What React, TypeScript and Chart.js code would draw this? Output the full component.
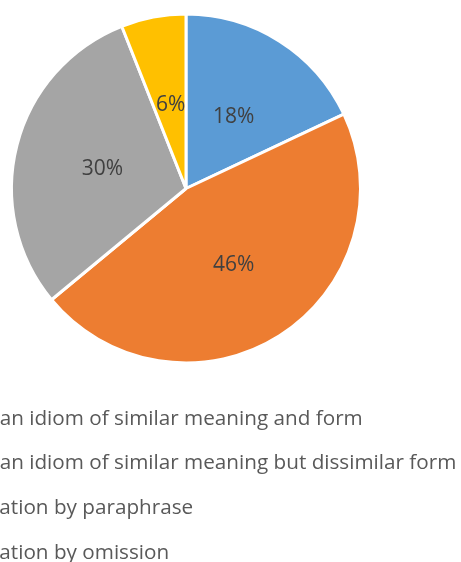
import React, { useEffect, useRef } from "react";
import { Chart, registerables } from "chart.js";

Chart.register(...registerables);

const categories = [
  "Using an idiom of similar meaning and form",
  "Using an idiom of similar meaning but dissimilar form",
  "Translation by paraphrase",
  "Translation by omission",
];
const values = [18, 46, 30, 6];
const colors = ["#5B9BD5", "#ED7D31", "#A5A5A5", "#FFC000"];

const FONT = "'Open Sans', 'Noto Sans', sans-serif";

const labelPlugin = {
  id: "pctLabels",
  afterDatasetsDraw(chart: any) {
    const ctx = chart.ctx;
    const meta = chart.getDatasetMeta(0);
    const data = chart.data.datasets[0].data as number[];
    const total = data.reduce((a, b) => a + b, 0);
    const size = 21;
    ctx.save();
    ctx.font = `${size}px ${FONT}`;
    ctx.fillStyle = "#404040";
    ctx.textAlign = "center";
    ctx.textBaseline = "alphabetic";
    meta.data.forEach((arc: any, i: number) => {
      const p = arc.tooltipPosition();
      ctx.fillText(Math.round((data[i] / total) * 100) + "%", p.x + 1, p.y + size * 0.357 + 1);
    });
    ctx.restore();
  },
};

const legendPlugin = {
  id: "croppedLegend",
  afterDraw(chart: any) {
    const ctx = chart.ctx;
    const labels = chart.data.labels as string[];
    const bg = chart.data.datasets[0].backgroundColor as string[];
    const textX = -59.8;
    const startY = 424.5;
    const step = 44.7;
    ctx.save();
    ctx.font = `20.7px ${FONT}`;
    ctx.textBaseline = "alphabetic";
    ctx.textAlign = "left";
    labels.forEach((lab, i) => {
      const y = startY + i * step;
      ctx.fillStyle = bg[i];
      ctx.fillRect(textX - 22, y - 13, 13, 13);
      ctx.fillStyle = "#595959";
      ctx.fillText(lab, textX, y);
    });
    ctx.restore();
  },
};

export default function App() {
  const ref = useRef<HTMLCanvasElement>(null);
  useEffect(() => {
    if (!ref.current) return;
    const chart = new Chart(ref.current, {
      type: "pie",
      data: {
        labels: categories,
        datasets: [
          {
            data: values,
            backgroundColor: colors,
            borderColor: "#ffffff",
            borderWidth: 3,
          },
        ],
      },
      options: {
        responsive: false,
        animation: false,
        layout: { padding: { left: 10, top: 12, right: 99, bottom: 197 } },
        plugins: {
          legend: { display: false },
          tooltip: { enabled: false },
        },
      },
      plugins: [labelPlugin, legendPlugin],
    });
    return () => chart.destroy();
  }, []);
  return (
    <div style={{ position: "fixed", left: 0, top: 0, width: 461, height: 562, background: "#fff" }}>
      <canvas ref={ref} width={461} height={562} />
    </div>
  );
}
